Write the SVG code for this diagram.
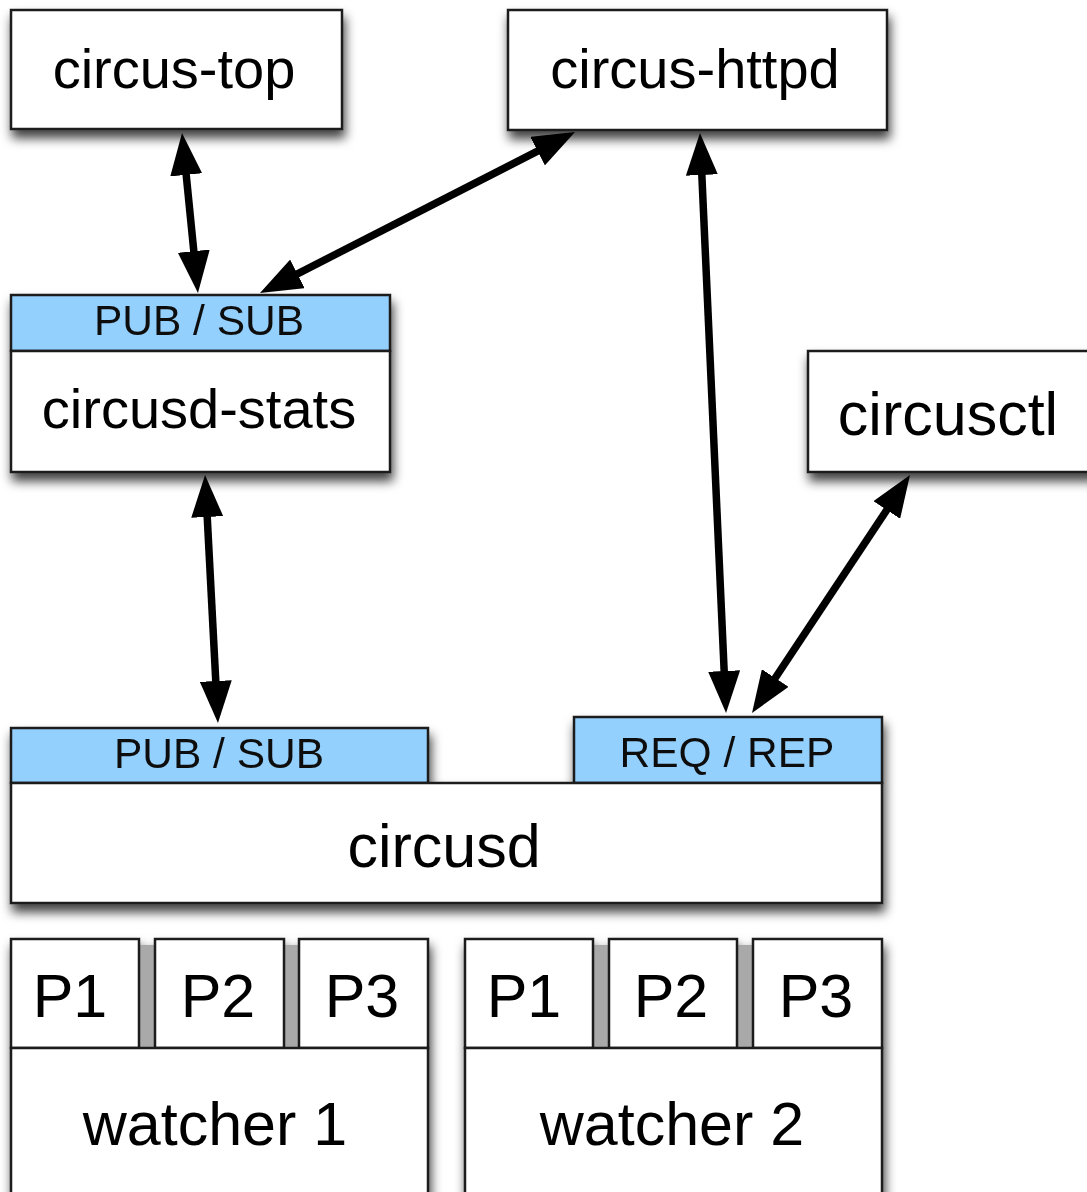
<svg xmlns="http://www.w3.org/2000/svg" width="1087" height="1192" viewBox="0 0 1087 1192">
  <defs>
    <filter id="shadow" x="-10%" y="-10%" width="120%" height="130%">
      <feDropShadow dx="2" dy="8" stdDeviation="5.5" flood-color="#000" flood-opacity="0.75"/>
    </filter>
    <marker id="head" viewBox="0 0 42 32" markerWidth="42" markerHeight="32" refX="12" refY="16" orient="auto-start-reverse" markerUnits="userSpaceOnUse">
      <path d="M0,0 L42,16 L0,32 z" fill="#000"/>
    </marker>
    <style>
      .box { fill: #fff; stroke: #1a1a1a; stroke-width: 2.5; }
      .hdr { fill: #94d0fe; stroke: #1a1a1a; stroke-width: 2.5; }
      .gap { fill: #a9a9a9; }
      .lbl { font-family: "Liberation Sans", Arial, sans-serif; fill: #000; text-anchor: middle; }
      .big { font-size: 56px; }
      .xl { font-size: 61px; }
      .small { font-size: 42.5px; fill: #111; }
      .conn { stroke: #000; stroke-width: 7.5; fill: none; marker-start: url(#head); marker-end: url(#head); }
    </style>
  </defs>
  <rect x="0" y="0" width="1087" height="1192" fill="#fff"/>

  <g id="circus-top" filter="url(#shadow)">
    <rect class="box" x="11" y="10" width="331" height="119"/>
    <text class="lbl big" x="174" y="88">circus-top</text>
  </g>

  <g id="circus-httpd" filter="url(#shadow)">
    <rect class="box" x="508" y="10" width="379" height="120"/>
    <text class="lbl big" x="695" y="88">circus-httpd</text>
  </g>

  <g id="circusd-stats" filter="url(#shadow)">
    <rect class="hdr" x="11" y="295" width="379" height="56"/>
    <rect class="box" x="11" y="351" width="379" height="121"/>
    <text class="lbl small" x="199" y="335">PUB / SUB</text>
    <text class="lbl big" x="199" y="428">circusd-stats</text>
  </g>

  <g id="circusctl" filter="url(#shadow)">
    <rect class="box" x="808" y="351" width="300" height="121"/>
    <text class="lbl xl" x="948" y="435">circusctl</text>
  </g>

  <g id="circusd" filter="url(#shadow)">
    <rect class="hdr" x="11" y="728" width="417" height="55"/>
    <rect class="hdr" x="574" y="717" width="308" height="66"/>
    <rect class="box" x="11" y="783" width="871" height="120"/>
    <text class="lbl small" x="219" y="768">PUB / SUB</text>
    <text class="lbl small" x="727" y="767">REQ / REP</text>
    <text class="lbl xl" x="444" y="867">circusd</text>
  </g>

  <g id="watcher-1" filter="url(#shadow)">
    <rect class="gap" x="130" y="945" width="180" height="103"/>
    <rect class="box" x="11" y="939" width="128" height="109"/>
    <rect class="box" x="155" y="939" width="129" height="109"/>
    <rect class="box" x="299" y="939" width="129" height="109"/>
    <rect class="box" x="11" y="1048" width="417" height="160"/>
    <text class="lbl xl" x="70" y="1017">P1</text>
    <text class="lbl xl" x="218" y="1017">P2</text>
    <text class="lbl xl" x="362" y="1017">P3</text>
    <text class="lbl xl" x="215" y="1145">watcher 1</text>
  </g>

  <g id="watcher-2" filter="url(#shadow)">
    <rect class="gap" x="585" y="945" width="180" height="103"/>
    <rect class="box" x="465" y="939" width="128" height="109"/>
    <rect class="box" x="609" y="939" width="128" height="109"/>
    <rect class="box" x="753" y="939" width="129" height="109"/>
    <rect class="box" x="465" y="1048" width="417" height="160"/>
    <text class="lbl xl" x="524" y="1017">P1</text>
    <text class="lbl xl" x="671" y="1017">P2</text>
    <text class="lbl xl" x="816" y="1017">P3</text>
    <text class="lbl xl" x="672" y="1145">watcher 2</text>
  </g>

  <g id="connectors">
    <line class="conn" x1="185" y1="162.9" x2="195" y2="263.1"/>
    <line class="conn" x1="548.3" y1="145.7" x2="286.7" y2="279.3"/>
    <line class="conn" x1="701.3" y1="163" x2="724.7" y2="683"/>
    <line class="conn" x1="893.4" y1="500" x2="768.6" y2="688"/>
    <line class="conn" x1="206.6" y1="505" x2="216.4" y2="693"/>
  </g>
</svg>
